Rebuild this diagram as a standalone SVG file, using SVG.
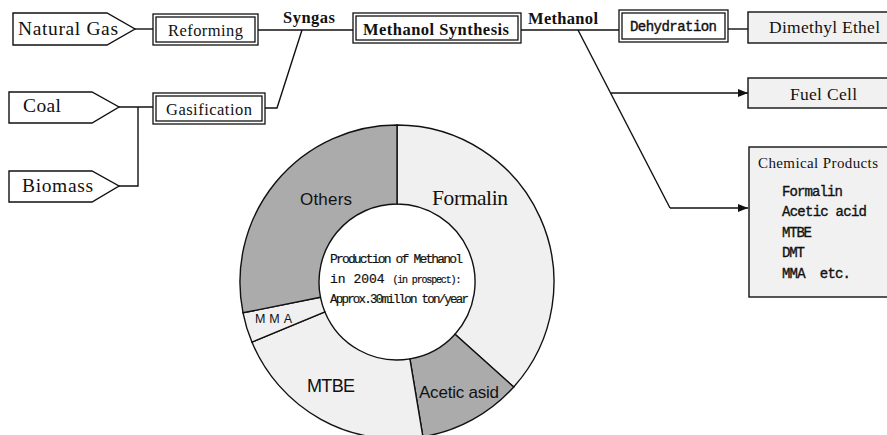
<svg xmlns="http://www.w3.org/2000/svg" width="887" height="435" viewBox="0 0 887 435">
<style>
.ln{fill:none;stroke:#111;stroke-width:1.4}
.sh{fill:#fff;stroke:#111;stroke-width:1.4}
.gr{fill:#f1f1f1;stroke:#111;stroke-width:1.4}
.dbl{fill:#fff;stroke:#111;stroke-width:1.3}
.sf{font-family:"Liberation Serif",serif;fill:#111}
.mo{font-family:"Liberation Mono",monospace;fill:#111}
.ss{font-family:"Liberation Sans",sans-serif;fill:#111}
.pl{fill:#f0f0f0;stroke:#111;stroke-width:1.4}
.pd{fill:#ababab;stroke:#111;stroke-width:1.4}
</style>
<defs>
<marker id="ar" markerWidth="10" markerHeight="8" refX="10" refY="4" orient="auto" markerUnits="userSpaceOnUse">
<path d="M0,0 L10,4 L0,8 Z" fill="#111"/>
</marker>
</defs>
<rect width="887" height="435" fill="#fff"/>
<g id="connectors">
<line class="ln" x1="135" y1="29" x2="153" y2="29"/>
<line class="ln" x1="258" y1="30" x2="353" y2="30"/>
<line class="ln" x1="521" y1="30" x2="619" y2="30"/>
<line class="ln" x1="728" y1="29" x2="748" y2="29"/>
<polyline class="ln" points="119,107 153,107"/>
<polyline class="ln" points="119,186 138,186 138,107"/>
<polyline class="ln" points="265,108 277,108 302,30"/>
<line class="ln" x1="578" y1="30" x2="670" y2="208"/>
<line class="ln" x1="611" y1="93" x2="748" y2="93" marker-end="url(#ar)"/>
<line class="ln" x1="670" y1="208" x2="748" y2="208" marker-end="url(#ar)"/>
</g>
<g id="natural-gas">
<path class="sh" d="M13,13 H107 L135,29 L107,45 H13 Z"/>
<text class="sf" x="18" y="35" font-size="19.5" textLength="100">Natural Gas</text>
</g>
<g id="coal">
<path class="sh" d="M9,92 H92 L119,107 L92,123 H9 Z"/>
<text class="sf" x="23" y="112" font-size="19.5" textLength="38">Coal</text>
</g>
<g id="biomass">
<path class="sh" d="M9,171 H92 L119,186 L92,202 H9 Z"/>
<text class="sf" x="22" y="192" font-size="19.5" textLength="71">Biomass</text>
</g>
<g id="reforming">
<rect class="dbl" x="153" y="14" width="105" height="31"/>
<rect class="dbl" x="156" y="17" width="99" height="25"/>
<text class="sf" x="168" y="36" font-size="16.5" textLength="75">Reforming</text>
</g>
<g id="gasification">
<rect class="dbl" x="153" y="93" width="112" height="31"/>
<rect class="dbl" x="156" y="96" width="106" height="25"/>
<text class="sf" x="166" y="115" font-size="16.5" textLength="86">Gasification</text>
</g>
<g id="syngas-label">
<text class="sf" x="283" y="23" font-size="16.5" font-weight="bold" textLength="52">Syngas</text>
</g>
<g id="methanol-synthesis">
<rect class="dbl" x="353" y="13" width="168" height="30"/>
<rect class="dbl" x="356" y="16" width="162" height="24"/>
<text class="sf" x="363" y="35" font-size="16.5" font-weight="bold" textLength="146">Methanol Synthesis</text>
</g>
<g id="methanol-label">
<text class="sf" x="528" y="24" font-size="16.5" font-weight="bold" textLength="70">Methanol</text>
</g>
<g id="dehydration">
<rect class="dbl" x="619" y="10" width="109" height="32"/>
<rect class="dbl" x="622" y="13" width="103" height="26"/>
<text class="mo" x="630" y="31" font-size="14" textLength="87" stroke="#111" stroke-width="0.4">Dehydration</text>
</g>
<g id="dimethyl-ethel">
<rect class="gr" x="748" y="12" width="150" height="31"/>
<text class="sf" x="769" y="33" font-size="17.5" textLength="111">Dimethyl Ethel</text>
</g>
<g id="fuel-cell">
<rect class="gr" x="748" y="78" width="150" height="30"/>
<text class="sf" x="790" y="100" font-size="17.5" textLength="67">Fuel Cell</text>
</g>
<g id="chemical-products">
<rect class="gr" x="749" y="147" width="150" height="150"/>
<text class="sf" x="758" y="168" font-size="15" textLength="120">Chemical Products</text>
<g class="mo" font-size="14" stroke="#111" stroke-width="0.35">
<text x="782" y="196" textLength="61">Formalin</text>
<text x="782" y="216" textLength="85">Acetic acid</text>
<text x="782" y="237" textLength="30">MTBE</text>
<text x="782" y="257" textLength="23">DMT</text>
<text x="782" y="278" textLength="69" xml:space="preserve">MMA  etc.</text>
</g>
</g>
<g id="donut">
<path class="pl" d="M397,125 A157,157 0 0 1 513.7,387 L455,334.2 A78,78 0 0 0 397,204 Z"/>
<path class="pd" d="M513.7,387 A157,157 0 0 1 422.9,436.8 L409.9,358.9 A78,78 0 0 0 455,334.2 Z"/>
<path class="pl" d="M422.9,436.8 A157,157 0 0 1 251.9,342.1 L324.9,311.9 A78,78 0 0 0 409.9,358.9 Z"/>
<path class="pl" d="M251.9,342.1 A157,157 0 0 1 243,312.8 L320.5,297.3 A78,78 0 0 0 324.9,311.9 Z"/>
<path class="pd" d="M243,312.8 A157,157 0 0 1 397,125 L397,204 A78,78 0 0 0 320.5,297.3 Z"/>
<text class="ss" x="300" y="205" font-size="17" textLength="52">Others</text>
<text class="sf" x="432" y="205" font-size="21.5" textLength="76">Formalin</text>
<text class="ss" x="255" y="323" font-size="12.5" textLength="37">MMA</text>
<text class="ss" x="307" y="392" font-size="18" textLength="48">MTBE</text>
<text class="ss" x="419" y="398" font-size="17" textLength="80">Acetic asid</text>
<g class="mo" font-size="13" stroke="#111" stroke-width="0.2">
<text x="330" y="263" textLength="133">Production of Methanol</text>
<text x="330" y="283">in 2004 <tspan font-size="10" textLength="69">(in prospect):</tspan></text>
<text x="330" y="303" font-size="12.5" textLength="139">Approx.30millon ton/year</text>
</g>
</g>
</svg>
